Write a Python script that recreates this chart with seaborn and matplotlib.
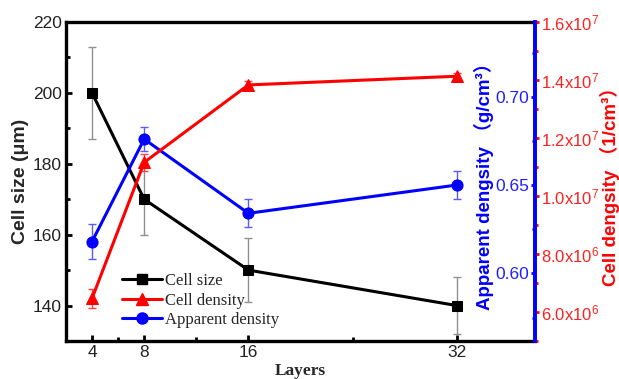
import numpy as np
import pandas as pd
import matplotlib
matplotlib.use("Agg")
import matplotlib.pyplot as plt
import seaborn as sns
from matplotlib.ticker import FixedLocator, FuncFormatter, MultipleLocator
from matplotlib.lines import Line2D

sns.set_style("ticks")
plt.rcParams['font.family'] = ['Liberation Sans', 'Noto Sans CJK SC', 'DejaVu Sans']
plt.rcParams['mathtext.default'] = 'regular'

layers = [4, 8, 16, 32]
cell_size = [200, 170, 150, 140]
cell_size_err = [13, 10, 9, 8]
cell_density = [6.47e6, 1.116e7, 1.383e7, 1.413e7]
cell_density_err = [3.3e5, 3.0e5, 1.2e5, 1.0e5]
app_density = [0.618, 0.676, 0.634, 0.650]
app_density_err = [0.010, 0.007, 0.008, 0.008]

df = pd.DataFrame({"Layers": layers, "size": cell_size, "size_err": cell_size_err,
                   "cd": cell_density, "cd_err": cell_density_err,
                   "ad": app_density, "ad_err": app_density_err})

fig = plt.figure(figsize=(6.19, 3.79), dpi=100)
ax = fig.add_axes([66/619, 1-341/379, (535-66)/619, (341-22)/379])
ax_b = ax.twinx()
ax_r = ax.twinx()

lw = 2.2
# Cell size
ax.errorbar(df["Layers"], df["size"], yerr=df["size_err"], fmt='none',
            ecolor='#909090', elinewidth=1, capsize=3, capthick=1, zorder=2)
sns.lineplot(data=df, x="Layers", y="size", ax=ax, color='black', lw=lw,
             marker='s', markersize=7, markeredgecolor='black', label='_nolegend_', zorder=3)
# Apparent density
ax_b.errorbar(df["Layers"], df["ad"], yerr=df["ad_err"], fmt='none',
              ecolor='#5a5aff', elinewidth=1, capsize=3, capthick=1, zorder=2)
sns.lineplot(data=df, x="Layers", y="ad", ax=ax_b, color='#0000ff', lw=lw,
             marker='o', markersize=8, markeredgecolor='#0000ff', label='_nolegend_', zorder=3)
# Cell density
ax_r.errorbar(df["Layers"], df["cd"], yerr=df["cd_err"], fmt='none',
              ecolor='#ff4040', elinewidth=1, capsize=3, capthick=1, zorder=2)
sns.lineplot(data=df, x="Layers", y="cd", ax=ax_r, color='#ff0000', lw=lw,
             marker='^', markersize=8.5, markeredgecolor='#ff0000', label='_nolegend_', zorder=3)

# Left axis
ax.set_xlim(2, 38)
ax.set_ylim(130, 220)
ax.set_xticks(layers)
ax.xaxis.set_minor_locator(FixedLocator([6, 12, 24]))
ax.yaxis.set_major_locator(MultipleLocator(20))
ax.yaxis.set_minor_locator(MultipleLocator(10))
ax.tick_params(axis='both', which='both', direction='in', width=2, color='black',
               labelsize=12.5, labelcolor='#222222')
ax.tick_params(axis='both', which='major', length=4)
ax.tick_params(axis='both', which='minor', length=3)
ax.tick_params(axis='y', pad=3)
ax.tick_params(axis='x', pad=3)
for s in ['left', 'top', 'bottom']:
    ax.spines[s].set_linewidth(2.4)
    ax.spines[s].set_color('black')
ax.spines['right'].set_visible(False)

# Blue axis: spine on the right, ticks/labels inside
ax_b.set_ylim(0.5617, 0.7423)
ax_b.spines['left'].set_position(('axes', 1.0))
ax_b.yaxis.tick_left()
ax_b.yaxis.set_label_position('left')
ax_b.yaxis.set_major_locator(MultipleLocator(0.05))
ax_b.yaxis.set_minor_locator(MultipleLocator(0.025))
ax_b.yaxis.set_major_formatter(FuncFormatter(lambda v, p: f"{v:.2f}"))
ax_b.tick_params(axis='y', which='both', direction='out', color='#0000ff', width=2,
                 labelcolor='#2020ff', labelsize=12.5, pad=1)
ax_b.tick_params(axis='y', which='major', length=3)
ax_b.tick_params(axis='y', which='minor', length=2)
ax_b.set_ylabel("Apparent dengsity （g/cm³）", color='#0000ff', fontweight='bold',
                fontsize=13.5, labelpad=1)
for s in ['right', 'top', 'bottom']:
    ax_b.spines[s].set_visible(False)
ax_b.spines['left'].set_color('#0000ff')
ax_b.spines['left'].set_linewidth(2.6)
ax_b.set_xlabel("")

# Red axis
ax_r.set_ylim(5e6, 1.6e7)
ax_r.yaxis.set_major_locator(MultipleLocator(2e6))
ax_r.yaxis.set_minor_locator(MultipleLocator(1e6))

def sci(v, p):
    e = int(np.floor(np.log10(v)))
    m = v / 10**e
    return f"{m:.1f}x10$^{{{e}}}$"

ax_r.yaxis.set_major_formatter(FuncFormatter(sci))
ax_r.tick_params(axis='y', which='both', direction='out', color='#ff0000', width=2,
                 labelcolor='#ff2020', labelsize=12, pad=1)
ax_r.tick_params(axis='y', which='major', length=3)
ax_r.tick_params(axis='y', which='minor', length=2)
ax_r.set_ylabel("Cell dengsity （1/cm³）", color='#ff0000', fontweight='bold',
                fontsize=13.5, labelpad=1)
for s in ['left', 'top', 'bottom']:
    ax_r.spines[s].set_visible(False)
ax_r.spines['right'].set_color('#0000ff')
ax_r.spines['right'].set_linewidth(2.6)
ax_r.set_xlabel("")

ax.set_xlabel("Layers", family='Liberation Serif', fontweight='bold', fontsize=12.5, labelpad=2)
ax.set_ylabel("Cell size (μm)", fontweight='bold', fontsize=14, labelpad=3)

# Legend
handles = [Line2D([], [], color='black', lw=lw, marker='s', markersize=7),
           Line2D([], [], color='#ff0000', lw=lw, marker='^', markersize=8),
           Line2D([], [], color='#0000ff', lw=lw, marker='o', markersize=8)]
ax_r.legend(handles, ["Cell size", "Cell density", "Apparent density"],
            loc='lower left', bbox_to_anchor=(0.105, 0.02), frameon=False,
            prop={'family': 'Liberation Serif', 'size': 12}, handlelength=2.4,
            handletextpad=0.2, labelspacing=0.2, borderaxespad=0)

fig.savefig("out.png", dpi=100)
